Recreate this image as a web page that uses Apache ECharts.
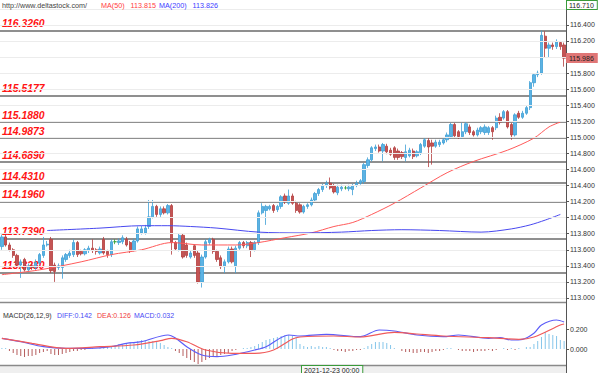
<!DOCTYPE html>
<html><head><meta charset="utf-8">
<script src="https://cdn.jsdelivr.net/npm/echarts@6/dist/echarts.min.js"></script>
<style>html,body{margin:0;padding:0;background:#fff}#c{width:600px;height:373px}</style>
</head><body><div id="c"></div>
<script>
// ---- candle data (150 bars) ----
const opens = [
113.64,113.76,113.66,113.60,113.53,113.41,113.48,113.35,113.40,113.38,
113.44,113.53,113.66,113.73,113.41,113.38,113.38,113.48,113.53,113.54,
113.69,113.58,113.55,113.59,113.62,113.60,113.56,113.73,113.58,113.54,
113.70,113.69,113.70,113.73,113.69,113.60,113.71,113.81,113.81,113.89,
114.01,114.14,114.04,114.11,114.06,114.15,113.69,113.60,113.78,113.66,
113.51,113.65,113.56,113.20,113.51,113.69,113.73,113.58,113.50,113.39,
113.45,113.61,113.40,113.62,113.69,113.65,113.69,113.60,113.69,114.06,
114.09,114.11,114.15,114.10,114.14,114.27,114.18,114.27,114.18,114.16,
114.07,114.14,114.16,114.22,114.30,114.35,114.40,114.43,114.40,114.31,
114.36,114.37,114.36,114.35,114.40,114.43,114.45,114.65,114.72,114.86,
114.88,114.83,114.89,114.84,114.87,114.83,114.81,114.75,114.77,114.83,
114.77,114.81,114.89,114.96,114.93,114.89,114.91,114.93,114.97,115.01,
115.16,115.07,115.01,115.07,115.13,115.07,115.03,115.07,115.06,115.06,
115.12,115.12,115.25,115.24,115.32,115.16,115.03,115.30,115.25,115.30,
115.37,115.68,115.78,115.80,116.26,116.11,116.15,116.13,116.18,116.15];
const closes = [
113.76,113.66,113.60,113.53,113.41,113.45,113.35,113.40,113.38,113.44,
113.54,113.66,113.67,113.34,113.33,113.40,113.50,113.54,113.56,113.69,
113.54,113.55,113.60,113.62,113.59,113.58,113.61,113.56,113.54,113.70,
113.70,113.71,113.75,113.66,113.60,113.71,113.86,113.86,113.87,114.01,
114.14,114.04,114.11,114.06,114.15,113.69,113.61,113.78,113.51,113.53,
113.56,113.53,113.20,113.51,113.70,113.73,113.58,113.48,113.39,113.45,
113.61,113.45,113.62,113.69,113.65,113.69,113.60,113.69,114.06,114.14,
114.14,114.14,114.09,114.14,114.26,114.20,114.27,114.18,114.09,114.07,
114.14,114.16,114.22,114.30,114.35,114.40,114.43,114.37,114.32,114.38,
114.38,114.37,114.38,114.40,114.43,114.46,114.66,114.72,114.87,114.88,
114.83,114.91,114.82,114.79,114.75,114.75,114.76,114.82,114.84,114.76,
114.82,114.91,114.97,114.88,114.89,114.94,114.94,114.97,115.03,115.16,
115.02,115.01,115.07,115.17,115.06,115.03,115.09,115.12,115.13,115.12,
115.07,115.24,115.19,115.32,115.13,115.03,115.28,115.25,115.30,115.37,
115.68,115.78,115.80,116.27,116.11,116.15,116.13,116.19,116.13,115.986];
const lows = [
113.60,113.64,113.58,113.50,113.39,113.25,113.33,113.33,113.35,113.35,
113.41,113.50,113.64,113.31,113.20,113.35,113.24,113.45,113.50,113.51,
113.51,113.53,113.53,113.56,113.56,113.54,113.54,113.54,113.50,113.51,
113.67,113.66,113.67,113.64,113.56,113.58,113.69,113.79,113.79,113.86,
113.99,114.01,114.01,114.04,114.04,113.54,113.59,113.58,113.49,113.50,
113.49,113.50,113.18,113.13,113.49,113.66,113.55,113.45,113.36,113.31,
113.43,113.43,113.31,113.60,113.62,113.62,113.51,113.58,113.66,114.04,
113.91,114.09,114.06,114.07,114.11,114.17,114.16,114.16,114.06,114.05,
114.05,114.11,114.14,114.20,114.27,114.32,114.37,114.35,114.30,114.28,
114.33,114.35,114.33,114.28,114.38,114.41,114.42,114.62,114.70,114.83,
114.81,114.70,114.79,114.77,114.72,114.72,114.73,114.70,114.75,114.73,
114.75,114.78,114.87,114.63,114.66,114.87,114.88,114.91,114.94,114.98,
114.99,114.98,114.98,115.04,115.03,115.01,115.01,115.04,115.03,115.03,
114.97,115.09,115.16,115.22,115.11,114.97,115.01,115.23,115.23,115.28,
115.34,115.63,115.75,115.78,116.00,116.00,116.09,116.10,116.09,115.88];
const highs = [
113.79,113.79,113.69,113.62,113.55,113.48,113.50,113.43,113.43,113.48,
113.56,113.76,113.71,113.76,113.44,113.43,113.53,113.56,113.60,113.73,
113.71,113.60,113.62,113.65,113.73,113.62,113.64,113.76,113.60,113.73,
113.73,113.74,113.78,113.76,113.71,113.74,113.89,113.90,113.91,114.22,
114.22,114.16,114.14,114.14,114.17,114.17,113.71,113.80,113.80,113.69,
113.59,113.67,113.59,113.54,113.73,113.75,113.75,113.60,113.53,113.48,
113.64,113.64,113.65,113.71,113.71,113.71,113.71,113.71,114.09,114.18,
114.16,114.16,114.17,114.16,114.28,114.30,114.35,114.30,114.21,114.18,
114.16,114.18,114.25,114.32,114.37,114.42,114.46,114.50,114.42,114.41,
114.41,114.40,114.41,114.42,114.46,114.48,114.68,114.75,114.89,114.91,
114.91,114.93,114.92,114.87,114.89,114.86,114.83,114.91,114.87,114.86,
114.84,114.93,114.99,114.99,114.97,114.97,114.97,114.99,115.06,115.18,
115.18,115.09,115.18,115.19,115.16,115.09,115.12,115.14,115.16,115.14,
115.14,115.27,115.30,115.34,115.34,115.18,115.30,115.33,115.33,115.39,
115.70,115.80,115.83,116.33,116.32,116.18,116.18,116.22,116.20,116.18];
const categories = opens.map((_, i) => String(i));

// ---- moving averages, read at sample bars [barIndex, value] ----
const ma50Points = [[0,113.29],[10,113.35],[21,113.45],[29,113.54],[37,113.60],[45,113.69],[53,113.66],[62,113.66],[68,113.69],[75,113.75],[82,113.81],[88,113.89],[93,113.94],[98,114.04],[104,114.18],[111,114.37],[118,114.56],[125,114.70],[134,114.84],[141,114.99],[145,115.13],[148,115.19]];
const ma200Points = [[12,113.84],[26,113.87],[37,113.90],[44,113.90],[50,113.89],[57,113.87],[68,113.82],[79,113.81],[90,113.82],[98,113.84],[106,113.85],[116,113.84],[127,113.82],[135,113.86],[140,113.91],[144,113.97],[148,114.04]];

// ---- MACD ----
const diffPoints = [[0,0.107],[5,0.073],[11,0.023],[17,0.007],[23,0.007],[29,0.023],[33,0.057],[37,0.073],[44,0.14],[46,0.11],[49,0.023],[53,-0.06],[57,-0.077],[61,-0.06],[67,-0.01],[70,0.023],[76,0.14],[79,0.13],[86,0.147],[95,0.123],[100,0.19],[104,0.18],[110,0.14],[117,0.123],[121,0.14],[129,0.107],[132,0.113],[135,0.09],[138,0.097],[141,0.157],[143,0.24],[147,0.29],[149,0.27]];
const deaPoints = [[0,0.107],[8,0.057],[17,0.007],[26,0.023],[35,0.04],[42,0.083],[45,0.107],[49,0.073],[54,-0.01],[61,-0.043],[67,-0.043],[72,-0.01],[77,0.1],[79,0.12],[88,0.13],[95,0.12],[104,0.167],[110,0.15],[117,0.13],[129,0.113],[137,0.097],[141,0.12],[148,0.24],[149,0.25]];
const macdHist = [
0.01,0.01,-0.02,-0.04,-0.06,-0.07,-0.08,-0.07,-0.07,-0.06,
-0.04,-0.03,-0.02,-0.05,-0.06,-0.06,-0.05,-0.04,-0.03,-0.02,
-0.02,-0.01,-0.01,0.00,0.01,0.00,0.01,0.01,0.02,0.03,
0.04,0.05,0.05,0.06,0.07,0.07,0.08,0.09,0.09,0.08,
0.08,0.07,0.06,0.04,0.02,0.01,-0.02,-0.04,-0.07,-0.09,
-0.11,-0.13,-0.15,-0.13,-0.11,-0.09,-0.08,-0.07,-0.06,-0.05,
-0.04,-0.02,-0.01,0.00,0.01,0.01,0.02,0.03,0.05,0.07,
0.09,0.10,0.11,0.12,0.13,0.14,0.14,0.13,0.12,0.05,
0.03,0.02,0.03,0.02,0.03,0.02,0.02,0.01,-0.01,-0.02,
-0.02,-0.03,-0.02,-0.02,-0.01,-0.01,0.01,0.03,0.05,0.07,
0.07,0.07,0.06,0.04,0.01,0.00,-0.02,-0.03,-0.03,-0.04,
-0.04,-0.03,-0.03,-0.04,-0.03,-0.02,-0.02,-0.01,0.01,0.01,
0.00,-0.01,-0.02,-0.02,-0.02,-0.03,-0.02,-0.02,-0.02,-0.01,
-0.02,-0.01,0.00,0.01,-0.01,0.01,-0.01,0.01,0.00,0.02,
0.02,0.05,0.08,0.12,0.17,0.15,0.14,0.13,0.09,0.08];

// ---- axes / levels ----
const priceTicks = [113.0,113.2,113.4,113.6,113.8,114.0,114.2,114.4,114.6,114.8,115.0,115.2,115.4,115.6,115.8,116.0,116.2,116.4,116.6];
const priceLabels = [113.0,113.2,113.4,113.6,113.8,114.0,114.2,114.4,114.6,114.8,115.0,115.2,115.4,115.6,115.8,116.2,116.4];
const macdTicks = [0.0, 0.2];
const supportLevels = [116.3260,115.5177,115.1880,114.9873,114.6890,114.4310,114.1960,113.7390,113.3230];
const lastPrice = 115.986;
const topPrice = 116.710;
const dateLabel = '2021-12-23 00:00';

const FONT = '"Liberation Sans", Arial, sans-serif';
const UP = '#5cb3e4', UPB = '#3f9fd6', DN = '#c45454', DNB = '#b23e3e', DOJI = '#2e9e2e';

const candleData = opens.map((o, i) => {
  const item = { value: [o, closes[i], lows[i], highs[i]] };
  if (o === closes[i]) item.itemStyle = { color: DOJI, color0: DOJI, borderColor: DOJI, borderColor0: DOJI };
  return item;
});

const chart = echarts.init(document.getElementById('c'), null, { renderer: 'svg' });
const common = { type: 'category', data: categories, boundaryGap: true,
  axisLine: { show: false }, axisTick: { show: false }, axisLabel: { show: false }, splitLine: { show: false } };

const baseGraphics = [
  { type: 'rect', left: 0, top: 366, shape: { width: 566, height: 7 }, style: { fill: '#efefef' }, z: 10 },
  { type: 'line', shape: { x1: 0, y1: 302.5, x2: 566, y2: 302.5 }, style: { stroke: '#8a8a8a', lineWidth: 1.5 }, z: 10 },
  { type: 'line', shape: { x1: 0, y1: 365.5, x2: 566, y2: 365.5 }, style: { stroke: '#8a8a8a', lineWidth: 1.5 }, z: 10 },
  { type: 'line', shape: { x1: 566.5, y1: 0, x2: 566.5, y2: 373 }, style: { stroke: '#555', lineWidth: 1 }, z: 10 },
  { type: 'text', left: 2, top: 2, z: 10, style: { text: 'http://www.deltastock.com/', fill: '#444', fontSize: 7.2, fontFamily: FONT } },
  { type: 'text', left: 101, top: 2, z: 10, style: { text: 'MA(50)   113.815', fill: '#ff3c3c', fontSize: 7.2, fontFamily: FONT } },
  { type: 'text', left: 159, top: 2, z: 10, style: { text: 'MA(200)   113.826', fill: '#3c3cff', fontSize: 7.2, fontFamily: FONT } },
  { type: 'text', left: 566, top: 0, z: 10, style: { text: topPrice.toFixed(3), fill: '#222', fontSize: 7, fontFamily: FONT,
      backgroundColor: '#fff', borderColor: '#3a9a3a', borderWidth: 1, padding: [1, 3, 0, 2] } },
  { type: 'text', left: 3, top: 312, z: 10, style: { text: 'MACD(26,12,9)', fill: '#333', fontSize: 7, fontFamily: FONT } },
  { type: 'text', left: 57, top: 312, z: 10, style: { text: 'DIFF:0.142', fill: '#4a4af5', fontSize: 7, fontFamily: FONT } },
  { type: 'text', left: 97, top: 312, z: 10, style: { text: 'DEA:0.126', fill: '#f03c3c', fontSize: 7, fontFamily: FONT } },
  { type: 'text', left: 134, top: 312, z: 10, style: { text: 'MACD:0.032', fill: '#4a4af5', fontSize: 7, fontFamily: FONT } },
  { type: 'text', left: 301, top: 365, z: 11, style: { text: dateLabel, fill: '#222', fontSize: 7, fontFamily: FONT,
      backgroundColor: '#f8f8f8', borderColor: '#3a9a3a', borderWidth: 1, padding: [1, 3, 0, 2] } }
];

chart.setOption({
  animation: false,
  backgroundColor: '#fff',
  grid: [
    { left: 0, right: 34, top: 0, height: 302, outerBoundsMode: 'none' },
    { left: 0, right: 34, top: 304, height: 61, outerBoundsMode: 'none' }
  ],
  xAxis: [ Object.assign({ gridIndex: 0 }, common), Object.assign({ gridIndex: 1 }, common) ],
  yAxis: [
    { gridIndex: 0, type: 'value', position: 'right', min: 112.95, max: topPrice, scale: true,
      axisLine: { show: true, lineStyle: { color: '#555', width: 1 } },
      axisTick: { show: true, customValues: priceTicks, length: 3, lineStyle: { color: '#555' } },
      axisLabel: { customValues: priceLabels, formatter: v => v.toFixed(3), fontSize: 7, color: '#333', margin: 4, fontFamily: FONT },
      splitLine: { show: false } },
    { gridIndex: 1, type: 'value', position: 'right', min: -0.16, max: 0.45,
      axisLine: { show: true, lineStyle: { color: '#555', width: 1 } },
      axisTick: { show: true, customValues: macdTicks, length: 3, lineStyle: { color: '#555' } },
      axisLabel: { customValues: macdTicks, formatter: v => v.toFixed(3), fontSize: 7, color: '#333', margin: 4, fontFamily: FONT },
      splitLine: { show: false } }
  ],
  series: [
    { name: 'grid', type: 'line', xAxisIndex: 0, yAxisIndex: 0, data: [], z: 0, silent: true,
      markLine: { silent: true, symbol: ['none', 'none'], label: { show: false },
        lineStyle: { color: '#ececec', width: 1, type: 'solid' },
        data: priceTicks.map(v => ({ yAxis: v })) } },
    { name: 'price', type: 'candlestick', xAxisIndex: 0, yAxisIndex: 0, data: candleData, barWidth: 2.8, z: 3,
      itemStyle: { color: UP, color0: DN, borderColor: UPB, borderColor0: DNB, borderWidth: 0.8 },
      markLine: { silent: true, symbol: ['none', 'none'], z: 2,
        lineStyle: { color: '#6a6a6a', width: 1.5, type: 'solid' },
        label: { position: 'insideStartTop', distance: [2, 2], color: '#ff1414', fontStyle: 'italic', fontWeight: 'bold', fontSize: 10.4, fontFamily: FONT },
        data: supportLevels.map(v => ({ yAxis: v, label: { formatter: v.toFixed(4) } })) } },
    { name: 'MA50', type: 'line', xAxisIndex: 0, yAxisIndex: 0, data: ma50Points, smooth: 0.3, symbol: 'none', z: 4,
      lineStyle: { color: '#ff5a5a', width: 1 } },
    { name: 'MA200', type: 'line', xAxisIndex: 0, yAxisIndex: 0, data: ma200Points, smooth: 0.3, symbol: 'none', z: 4,
      lineStyle: { color: '#4848f0', width: 1 } },
    { name: 'MACD', type: 'bar', xAxisIndex: 1, yAxisIndex: 1, data: macdHist, barWidth: 1,
      itemStyle: { color: p => p.value >= 0 ? '#86c6ea' : '#b65e5e' } },
    { name: 'DIFF', type: 'line', xAxisIndex: 1, yAxisIndex: 1, data: diffPoints, smooth: 0.3, symbol: 'none', z: 4,
      lineStyle: { color: '#5c5cf8', width: 1.2 } },
    { name: 'DEA', type: 'line', xAxisIndex: 1, yAxisIndex: 1, data: deaPoints, smooth: 0.3, symbol: 'none', z: 4,
      lineStyle: { color: '#f05a5a', width: 1.2 } }
  ],
  graphic: baseGraphics
});

// current price tag placed through the price axis
const yLast = chart.convertToPixel({ yAxisIndex: 0 }, lastPrice);
chart.setOption({ graphic: baseGraphics.concat([
  { type: 'text', left: 566, top: Math.round(yLast - 5), z: 12,
    style: { text: lastPrice.toFixed(3), fill: '#222', fontSize: 7, fontFamily: FONT,
      backgroundColor: '#e07676', padding: [2, 4, 1, 3] } }
]) });
</script>
</body></html>
